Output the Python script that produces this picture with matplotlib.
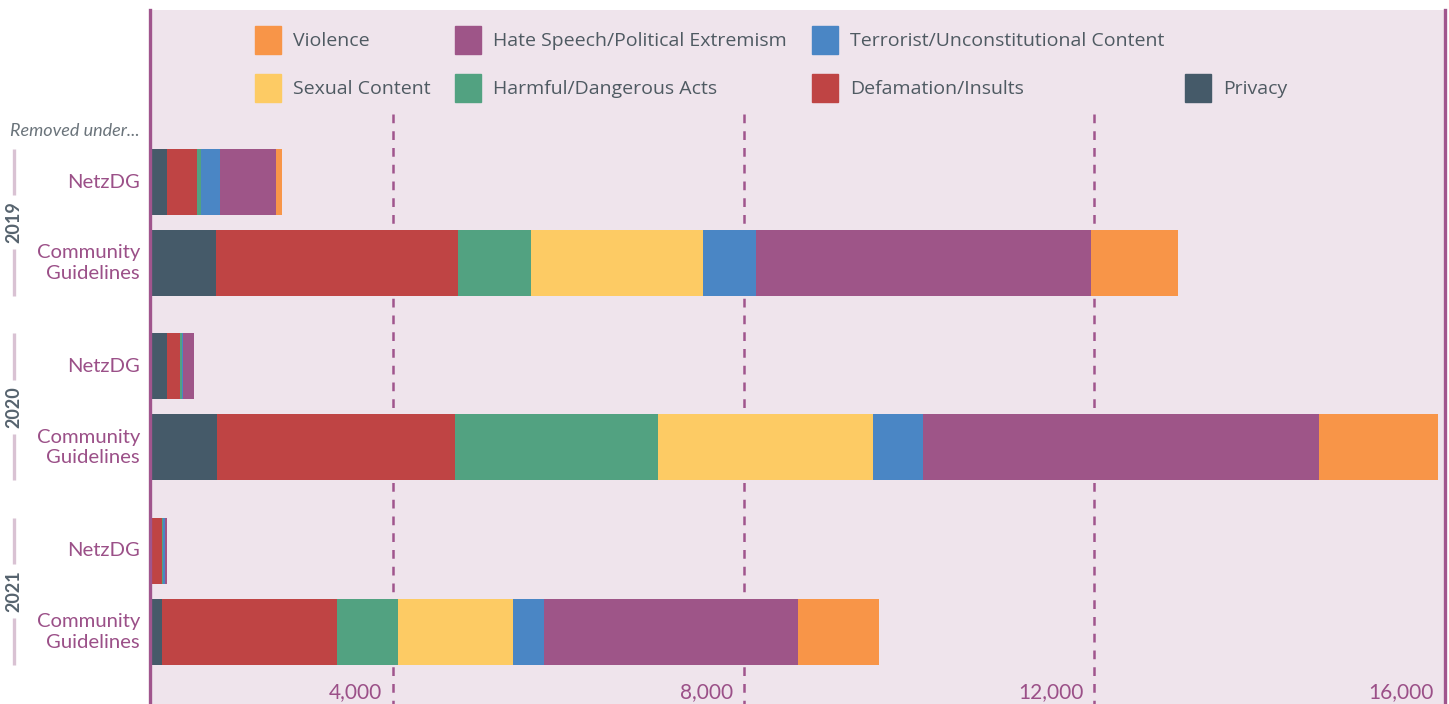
import matplotlib
matplotlib.use("Agg")
import matplotlib.pyplot as plt
import matplotlib.transforms as mtransforms
from matplotlib.patches import Rectangle

# ---------------- data ----------------
years = ["2019", "2020", "2021"]
mechanisms = ["NetzDG", "Community\nGuidelines"]
categories = ["Privacy", "Defamation/Insults", "Harmful/Dangerous Acts", "Sexual Content",
              "Terrorist/Unconstitutional Content", "Hate Speech/Political Extremism", "Violence"]
colors = ["#455A69", "#BF4444", "#52A281", "#FDCB64", "#4A86C5", "#9E5588", "#F89548"]

# rows: 2019 NetzDG, 2019 CG, 2020 NetzDG, 2020 CG, 2021 NetzDG, 2021 CG
privacy    = [194,  754, 194,  766,  11,  137]
defamation = [343, 2754, 149, 2709, 126, 2000]
harmful    = [46,   834,  17, 2320,   6,  697]
sexual     = [0,   1966,   0, 2457,   6, 1303]
terrorist  = [217,  606,  17,  560,  17,  354]
hate       = [640, 3817, 126, 4526,  23, 2903]
violence   = [69,   994,   0, 1349,   0,  926]
series = [privacy, defamation, harmful, sexual, terrorist, hate, violence]

x_ticks = [4000, 8000, 12000, 16000]
x_tick_labels = ["4,000", "8,000", "12,000", "16,000"]
axis_start = 1228
axis_end = 16000

# legend layout (order as in reference)
legend_rows = [["Violence", "Hate Speech/Political Extremism", "Terrorist/Unconstitutional Content", None],
               ["Sexual Content", "Harmful/Dangerous Acts", "Defamation/Insults", "Privacy"]]

# ---------------- style ----------------
BG = "#EFE4EC"
PURPLE = "#A0558D"
LABEL = "#9B5088"
GREY = "#56636E"
LEGTXT = "#4F5A62"
FONT = ["Lato", "DejaVu Sans"]
LFONT = ["Open Sans", "DejaVu Sans"]

W, H = 1449, 704
fig = plt.figure(figsize=(W / 100, H / 100), dpi=100)
fig.patch.set_facecolor("white")
ax_left, ax_right, ax_top = 150, 1445, 10
ax = fig.add_axes([ax_left / W, 0, (ax_right - ax_left) / W, (H - ax_top) / H])
ax.set_facecolor(BG)
ax.set_xlim(axis_start, axis_end)
ax.set_ylim(H, ax_top)  # y in pixel-like units from top
for s in ["top", "bottom"]:
    ax.spines[s].set_visible(False)
for s in ["left", "right"]:
    ax.spines[s].set_color(PURPLE)
    ax.spines[s].set_linewidth(2.4)
ax.set_xticks([])
ax.set_yticks([])

# row layout
first_center = 182
within_gap = 81
group_gap = 184.5
bar_h = 66
row_y = []
for g in range(len(years)):
    for m in range(len(mechanisms)):
        row_y.append(first_center + g * group_gap + m * within_gap)

# gridlines
grid_top = 114
for xt in x_ticks[:-1]:
    ax.plot([xt, xt], [grid_top, H], color=PURPLE, lw=1.8, ls=(0, (3.5, 3.2)), zorder=1)

# bars
lefts = [axis_start] * len(row_y)
for vals, col in zip(series, colors):
    ax.barh(row_y, vals, left=lefts, height=bar_h, color=col, linewidth=0, zorder=2)
    lefts = [l + v for l, v in zip(lefts, vals)]

# x tick labels
off = mtransforms.offset_copy(ax.transData, fig=fig, x=-11, y=0, units="dots")
for xt, lab in zip(x_ticks, x_tick_labels):
    ax.text(xt, 692, lab, transform=off, ha="right", va="center", fontsize=15,
            color=LABEL, family=FONT, zorder=3)

# y labels
ytr = ax.get_yaxis_transform()
lab_x = -10 / (ax_right - ax_left)
for i, y in enumerate(row_y):
    ax.text(lab_x, y, mechanisms[i % 2], transform=ytr, ha="right", va="center",
            fontsize=14.6, color=LABEL, family=FONT, linespacing=1.25, clip_on=False)
ax.text(lab_x, 131, "Removed under...", transform=ytr, ha="right", va="center",
        fontsize=13, color="#6B747B", style="italic", family=FONT, clip_on=False)

# year labels with vertical lines
yr_x = (14 - ax_left) / (ax_right - ax_left)
for g, yr in enumerate(years):
    top = row_y[2 * g] - bar_h / 2
    bot = row_y[2 * g + 1] + bar_h / 2
    mid = (top + bot) / 2
    ax.text(yr_x, mid, yr, transform=ytr, rotation=90, ha="center", va="center",
            fontsize=13, fontweight="bold", color=GREY, family=FONT, clip_on=False)
    ax.plot([yr_x, yr_x], [top, mid - 27], transform=ytr, color="#D9C2D3", lw=2.4,
            clip_on=False, solid_capstyle="butt")
    ax.plot([yr_x, yr_x], [mid + 27, bot], transform=ytr, color="#D9C2D3", lw=2.4,
            clip_on=False, solid_capstyle="butt")

# legend (manual)
col_x = [255, 455, 812, 1185]
row_cy = [40, 88]
sw_w, sw_h = 26, 28
cmap = dict(zip(categories, colors))
for r, row in enumerate(legend_rows):
    for c, name in enumerate(row):
        if name is None:
            continue
        x0 = col_x[c]
        yc = row_cy[r]
        fig.patches.append(Rectangle((x0 / W, 1 - (yc + sw_h / 2) / H), sw_w / W, sw_h / H,
                                     transform=fig.transFigure, color=cmap[name], zorder=5))
        fig.text((x0 + 38) / W, 1 - (yc + 1.5) / H, name, ha="left", va="center", fontsize=14,
                 color=LEGTXT, family=LFONT)

fig.savefig("out.png", dpi=100, facecolor="white")
